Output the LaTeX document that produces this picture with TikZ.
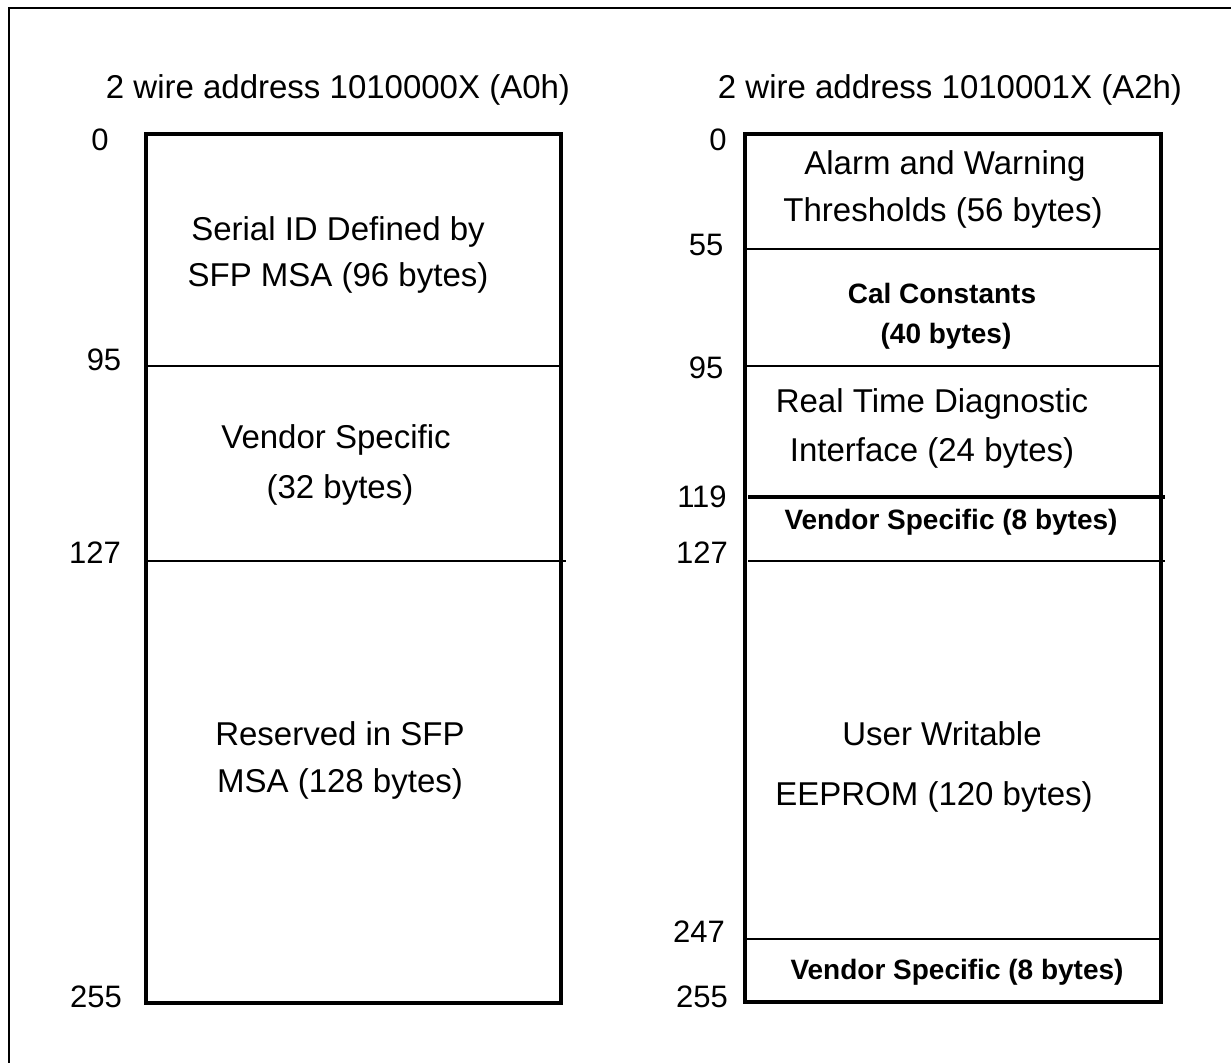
\documentclass[tikz,border=0pt]{standalone}
\usepackage{fontspec}
\setmainfont{Liberation Sans}
\begin{document}
\begin{tikzpicture}[x=1pt,y=-1pt,
  frame/.style={line width=2pt},
  mapbox/.style={line width=3.6pt},
  divider/.style={line width=2.8pt},
  reg/.style={inner sep=0pt,anchor=center,font=\fontsize{33}{33}\selectfont},
  boldtxt/.style={inner sep=0pt,anchor=center,font=\fontsize{28}{28}\selectfont\bfseries},
  num/.style={inner sep=0pt,anchor=center,font=\fontsize{31}{31}\selectfont}]
\useasboundingbox (0,0) rectangle (1231,1063);
% outer frame (only top and left edges fall inside the picture)
\coordinate (ftr) at (1231,8);
\coordinate (ftl) at (9,8);
\coordinate (fbl) at (9,1063);
\draw[frame] (ftr) -- (ftl) -- (fbl);
% titles
\node[reg] (tA0) at (338,90) {2 wire address 1010000X (A0h)};
\node[reg] (tA2) at (950,90) {2 wire address 1010001X (A2h)};
% left map
\draw[mapbox] (146,134) rectangle (561,1003);
\draw[divider] (146,366) -- (561,366);
\draw[divider] (146,561) -- (566,561);
\node[num] (l0) at (100,140) {0};
\node[num] (l95) at (104,360) {95};
\node[num] (l127) at (95,553) {127};
\node[num] (l255) at (96,997) {255};
\node[reg] (s1a) at (338,232) {Serial ID Defined by};
\node[reg] (s1b) at (338,278) {SFP MSA (96 bytes)};
\node[reg] (s2a) at (336,440) {Vendor Specific};
\node[reg] (s2b) at (340,490) {(32 bytes)};
\node[reg] (s3a) at (340,734) {Reserved in SFP};
\node[reg] (s3b) at (340,784) {MSA (128 bytes)};
% right map
\draw[mapbox] (745,134) rectangle (1161,1002);
\draw[divider] (745,249) -- (1161,249);
\draw[divider] (745,366) -- (1161,366);
\draw[line width=3.6pt] (748,497) -- (1165,497);
\draw[divider] (748,561) -- (1165,561);
\draw[divider] (745,939) -- (1161,939);
\node[num] (r0) at (718,140) {0};
\node[num] (r55) at (706,245) {55};
\node[num] (r95) at (706,368) {95};
\node[num] (r119) at (702,497) {119};
\node[num] (r127) at (702,553) {127};
\node[num] (r247) at (699,932) {247};
\node[num] (r255) at (702,997) {255};
\node[reg] (a1a) at (945,166) {Alarm and Warning};
\node[reg] (a1b) at (943,213) {Thresholds (56 bytes)};
\node[boldtxt] (a2a) at (942,293) {Cal Constants};
\node[boldtxt] (a2b) at (946,336) {(40 bytes)};
\node[reg] (a3a) at (932,404) {Real Time Diagnostic};
\node[reg] (a3b) at (932,453) {Interface (24 bytes)};
\node[boldtxt] (a4) at (951,522) {Vendor Specific (8 bytes)};
\node[reg] (a5a) at (942,734) {User Writable};
\node[reg] (a5b) at (934,797) {EEPROM (120 bytes)};
\node[boldtxt] (a6) at (957,972) {Vendor Specific (8 bytes)};
\end{tikzpicture}
\end{document}
